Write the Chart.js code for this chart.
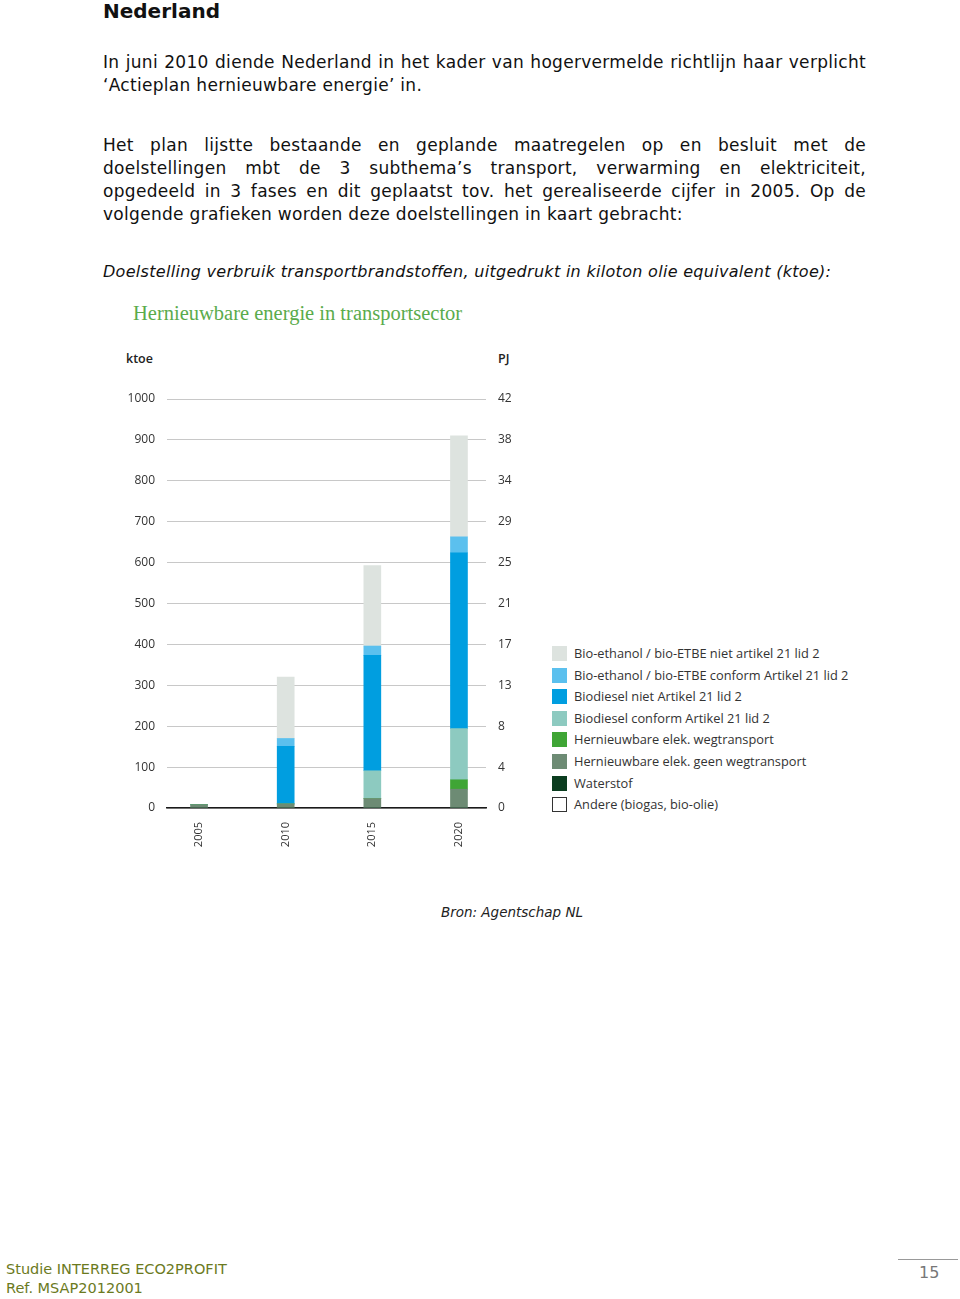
<!DOCTYPE html>
<html>
<head>
<meta charset="utf-8">
<script src="https://cdn.jsdelivr.net/npm/chart.js@4.4.0/dist/chart.umd.min.js"></script>
<style>
  body { margin: 0; background: #fff; width: 960px; height: 1299px; position: relative; overflow: hidden;
         font-family: "DejaVu Sans", sans-serif; color: #111; }
  .abs { position: absolute; }
  .txt { left: 103px; width: 763px; font-size: 17px; letter-spacing: 0.3px; line-height: 23px; }
  .j { text-align: justify; text-align-last: justify; }
  #legend { left: 552px; top: 643px; font-family: "Open Sans", sans-serif; font-size: 12.8px; color: #333; }
  #legend div { height: 21.6px; line-height: 21.6px; white-space: nowrap; }
  #legend span { display: inline-block; width: 15px; height: 15px; vertical-align: -3px; margin-right: 7px; box-sizing: border-box; }
</style>
</head>
<body>

<div class="abs" style="left:103px;top:0;font-size:20px;line-height:23px;font-weight:bold;">Nederland</div>

<div class="abs txt j" style="top:51px;">In juni 2010 diende Nederland in het kader van hogervermelde richtlijn haar verplicht</div>
<div class="abs txt" style="top:74px;">‘Actieplan hernieuwbare energie’ in.</div>

<div class="abs txt j" style="top:134px;">Het plan lijstte bestaande en geplande maatregelen op en besluit met de</div>
<div class="abs txt j" style="top:157px;">doelstellingen mbt de 3 subthema’s transport, verwarming en elektriciteit,</div>
<div class="abs txt j" style="top:180px;">opgedeeld in 3 fases en dit geplaatst tov. het gerealiseerde cijfer in 2005. Op de</div>
<div class="abs txt" style="top:203px;">volgende grafieken worden deze doelstellingen in kaart gebracht:</div>

<div class="abs txt" style="top:260px;font-style:italic;font-size:16px;letter-spacing:0.3px;">Doelstelling verbruik transportbrandstoffen, uitgedrukt in kiloton olie equivalent (ktoe):</div>

<div class="abs" style="left:133px;top:302px;font-family:'Liberation Serif',serif;font-size:20.5px;color:#5aab4c;">Hernieuwbare energie in transportsector</div>
<div class="abs" style="left:126px;top:350px;font-family:'Open Sans',sans-serif;font-size:12.5px;font-weight:600;color:#222;">ktoe</div>
<div class="abs" style="left:498px;top:350px;font-family:'Open Sans',sans-serif;font-size:12.5px;font-weight:600;color:#222;">PJ</div>

<canvas id="chartContainer" class="abs" style="left:100px;top:340px;" width="440" height="520"></canvas>
<div id="legend" class="abs"></div>

<div class="abs" style="left:0;width:1024px;top:904px;text-align:center;font-size:13.5px;font-style:italic;color:#222;">Bron: Agentschap NL</div>

<div class="abs" style="left:6px;top:1260px;font-size:14.5px;line-height:19px;color:#6b7a1e;">Studie INTERREG ECO2PROFIT<br>Ref. MSAP2012001</div>
<div class="abs" style="left:898px;top:1259px;width:60px;border-top:1px solid #999;"></div>
<div class="abs" style="left:919px;top:1263px;font-size:16px;color:#777;">15</div>

<script>
// 1: data (ktoe)
let years = [2005, 2010, 2015, 2020];
let pjTicks = ['0', '4', '8', '13', '17', '21', '25', '29', '34', '38', '42'];

// stack order, bottom to top
let andere = [0, 0, 0, 0];
let waterstof = [0, 0, 0, 0];
let elekGeenWeg = [8, 10, 23, 46];
let elekWeg = [0, 0, 0, 23];
let biodieselConform = [0, 0, 68, 125];
let biodieselNiet = [0, 141, 282, 430];
let ethanolConform = [0, 19, 23, 39];
let ethanolNiet = [0, 150, 197, 247];

// 2: turn a list of values into points on the year axis
function toPoints(values) {
  return values.map((v, i) => ({ x: years[i], y: v }));
}

function makeSet(label, values, color, border) {
  return {
    label: label,
    data: toPoints(values),
    backgroundColor: color,
    borderColor: border || color,
    borderWidth: border ? 1 : 0,
    barThickness: 17
  };
}

// 3: chart
function appendChart() {
  let tickFont = { family: 'Open Sans', size: 12 };
  let chart = new Chart(document.getElementById('chartContainer'), {
    type: 'bar',
    data: {
      datasets: [
        makeSet('Andere (biogas, bio-olie)', andere, '#ffffff', '#333333'),
        makeSet('Waterstof', waterstof, '#0b3d1f'),
        makeSet('Hernieuwbare elek. geen wegtransport', elekGeenWeg, '#6d8b74'),
        makeSet('Hernieuwbare elek. wegtransport', elekWeg, '#3fa535'),
        makeSet('Biodiesel conform Artikel 21 lid 2', biodieselConform, '#8dcac0'),
        makeSet('Biodiesel niet Artikel 21 lid 2', biodieselNiet, '#009ee0'),
        makeSet('Bio-ethanol / bio-ETBE conform Artikel 21 lid 2', ethanolConform, '#5bc0ee'),
        makeSet('Bio-ethanol / bio-ETBE niet artikel 21 lid 2', ethanolNiet, '#dde3df')
      ]
    },
    options: {
      responsive: false,
      animation: false,
      layout: { padding: { top: 59 } },
      plugins: { legend: { display: false }, tooltip: { enabled: false } },
      scales: {
        x: {
          type: 'linear', min: 2003.15, max: 2021.56, stacked: true, offset: false,
          grid: { display: false, drawTicks: false },
          border: { color: '#1a1a1a', width: 1.5 },
          afterBuildTicks: s => { s.ticks = years.map(v => ({ value: v })); },
          afterFit: s => { s.height = 52; },
          ticks: { callback: v => String(v), minRotation: 90, maxRotation: 90, padding: 14,
                   color: '#333', font: { family: 'Open Sans', size: 11 } }
        },
        y: {
          position: 'left', stacked: true, min: 0, max: 1000,
          grid: { color: '#c8c8c8', drawTicks: false },
          border: { display: false },
          afterFit: s => { s.width = 67; },
          ticks: { stepSize: 100, padding: 12, color: '#333', font: tickFont, callback: v => String(v) }
        },
        y2: {
          position: 'right', min: 0, max: 1000,
          grid: { display: false, drawTicks: false },
          border: { display: false },
          afterFit: s => { s.width = 54; },
          ticks: { stepSize: 100, padding: 12, color: '#333', font: tickFont,
                   callback: (v, i) => pjTicks[i] }
        }
      }
    }
  });

  // legend in html, top of the stack first
  let legend = document.getElementById('legend');
  chart.data.datasets.slice().reverse().forEach(ds => {
    let row = document.createElement('div');
    let box = document.createElement('span');
    box.style.background = ds.backgroundColor;
    if (ds.borderWidth) box.style.border = '1px solid ' + ds.borderColor;
    row.appendChild(box);
    row.appendChild(document.createTextNode(ds.label));
    legend.appendChild(row);
  });
}

appendChart();
</script>
</body>
</html>
